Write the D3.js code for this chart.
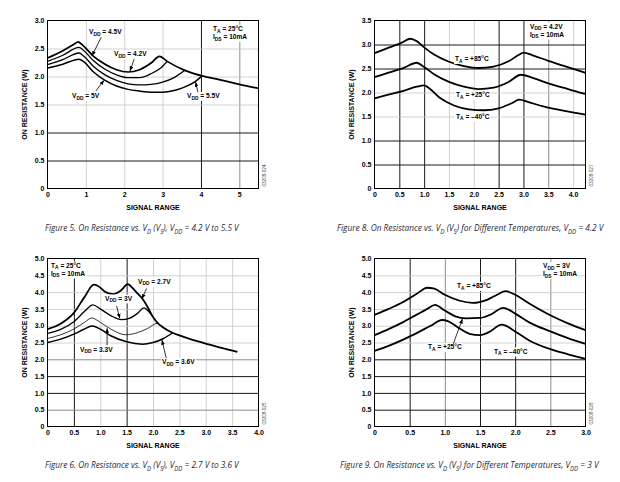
<!DOCTYPE html>
<html><head><meta charset="utf-8">
<script src="https://cdn.jsdelivr.net/npm/d3@7"></script>
<style>body{margin:0;background:#fff}</style>
</head><body>
<svg id="c" width="620" height="482"></svg>
<script>
// ---------------- DATA ----------------
// Figure 5: On resistance vs signal range, VDD = 4.2 V to 5.5 V
const fig5XTicks = [0, 1, 2, 3, 4, 5];
const fig5YTicks = [0, 0.5, 1.0, 1.5, 2.0, 2.5, 3.0];
const fig5Vdd42 = [[0,2.33],[0.4,2.46],[0.7,2.58],[0.8,2.62],[0.9,2.57],[1.2,2.36],[1.5,2.22],[1.8,2.12],[2.1,2.08],[2.4,2.12],[2.7,2.24],[2.92,2.36],[3.12,2.27],[3.58,2.11],[4.03,2.01],[4.5,1.94],[5.0,1.86],[5.5,1.79]];
const fig5Vdd45 = [[0,2.27],[0.4,2.38],[0.82,2.52],[0.95,2.46],[1.2,2.28],[1.5,2.13],[1.8,2.03],[2.1,1.98],[2.4,1.98],[2.7,2.05],[2.95,2.15],[3.12,2.27]];
const fig5Vdd5  = [[0,2.21],[0.4,2.30],[0.82,2.42],[0.95,2.36],[1.2,2.18],[1.5,2.03],[1.8,1.93],[2.1,1.87],[2.4,1.85],[2.7,1.86],[3.0,1.90],[3.3,1.98],[3.58,2.11]];
const fig5Vdd55 = [[0,2.15],[0.4,2.22],[0.82,2.31],[0.95,2.26],[1.2,2.08],[1.5,1.93],[1.8,1.83],[2.1,1.77],[2.4,1.74],[2.7,1.72],[3.0,1.72],[3.3,1.75],[3.6,1.82],[3.85,1.91],[4.03,2.01]];

// Figure 8: On resistance vs signal range for different temperatures, VDD = 4.2 V
const fig8XTicks = [0, 0.5, 1.0, 1.5, 2.0, 2.5, 3.0, 3.5, 4.0];
const fig8YTicks = [0, 0.5, 1.0, 1.5, 2.0, 2.5, 3.0, 3.5];
const fig8Ta85  = [[0,2.82],[0.3,2.94],[0.55,3.04],[0.72,3.12],[0.85,3.07],[1.0,2.94],[1.2,2.79],[1.5,2.64],[1.8,2.55],[2.1,2.51],[2.4,2.54],[2.7,2.65],[2.9,2.78],[3.0,2.83],[3.2,2.77],[3.5,2.66],[3.8,2.56],[4.1,2.46],[4.25,2.41]];
const fig8Ta25  = [[0,2.32],[0.3,2.42],[0.6,2.52],[0.85,2.62],[1.0,2.53],[1.2,2.38],[1.5,2.22],[1.8,2.12],[2.1,2.07],[2.4,2.10],[2.7,2.22],[2.95,2.37],[3.2,2.30],[3.5,2.19],[3.8,2.10],[4.1,2.01],[4.25,1.97]];
const fig8TaM40 = [[0,1.88],[0.3,1.96],[0.6,2.04],[0.85,2.12],[1.0,2.15],[1.1,2.09],[1.3,1.90],[1.6,1.73],[1.9,1.65],[2.2,1.63],[2.5,1.67],[2.75,1.77],[2.92,1.85],[3.1,1.80],[3.4,1.71],[3.8,1.62],[4.25,1.54]];

// Figure 6: On resistance vs signal range, VDD = 2.7 V to 3.6 V
const fig6XTicks = [0, 0.5, 1.0, 1.5, 2.0, 2.5, 3.0, 3.5, 4.0];
const fig6YTicks = [0, 0.5, 1.0, 1.5, 2.0, 2.5, 3.0, 3.5, 4.0, 4.5, 5.0];
const fig6Vdd27 = [[0,2.9],[0.25,3.06],[0.5,3.38],[0.7,3.85],[0.88,4.22],[0.95,4.19],[1.1,4.0],[1.25,3.94],[1.4,4.06],[1.52,4.24],[1.6,4.14],[1.7,3.97],[1.8,3.80],[1.9,3.55],[2.0,3.26],[2.1,3.06],[2.2,2.94],[2.37,2.79],[2.5,2.71],[2.75,2.58],[3.0,2.47],[3.3,2.34],[3.6,2.22]];
const fig6Vdd3  = [[0,2.77],[0.25,2.89],[0.5,3.12],[0.7,3.42],[0.86,3.62],[1.0,3.5],[1.2,3.3],[1.4,3.18],[1.55,3.22],[1.7,3.36],[1.83,3.53],[1.92,3.42],[2.0,3.26]];
const fig6Vdd33 = [[0,2.62],[0.25,2.73],[0.5,2.9],[0.7,3.1],[0.84,3.23],[1.0,3.1],[1.2,2.9],[1.48,2.73],[1.7,2.79],[1.9,2.92],[2.08,3.07],[2.15,2.99],[2.2,2.94]];
const fig6Vdd36 = [[0,2.5],[0.25,2.6],[0.5,2.75],[0.7,2.9],[0.84,2.99],[1.0,2.9],[1.2,2.7],[1.5,2.52],[1.8,2.45],[2.0,2.5],[2.2,2.62],[2.37,2.79]];

// Figure 9: On resistance vs signal range for different temperatures, VDD = 3 V
const fig9XTicks = [0, 0.5, 1.0, 1.5, 2.0, 2.5, 3.0];
const fig9YTicks = [0, 0.5, 1.0, 1.5, 2.0, 2.5, 3.0, 3.5, 4.0, 4.5, 5.0];
const fig9Ta85  = [[0,3.32],[0.2,3.5],[0.4,3.7],[0.6,3.95],[0.75,4.13],[0.85,4.1],[1.0,3.92],[1.2,3.75],[1.4,3.68],[1.6,3.77],[1.75,3.93],[1.86,4.03],[2.0,3.92],[2.2,3.66],[2.5,3.31],[2.75,3.07],[3.0,2.87]];
const fig9Ta25  = [[0,2.72],[0.2,2.9],[0.4,3.1],[0.6,3.33],[0.75,3.5],[0.86,3.62],[1.0,3.45],[1.15,3.28],[1.3,3.22],[1.5,3.23],[1.65,3.33],[1.83,3.53],[2.0,3.36],[2.2,3.1],[2.5,2.83],[2.75,2.63],[3.0,2.46]];
const fig9TaM40 = [[0,2.25],[0.2,2.4],[0.4,2.58],[0.6,2.78],[0.8,3.0],[0.96,3.17],[1.05,3.13],[1.2,2.93],[1.35,2.76],[1.5,2.72],[1.62,2.8],[1.81,3.03],[2.0,2.83],[2.2,2.56],[2.5,2.3],[2.75,2.15],[3.0,2.01]];

// ---------------- DRAWING ----------------
const svg = d3.select("#c");
const FONT = "'Liberation Sans', Arial, Helvetica, sans-serif";
const GRID = {dark:{c:"#1a1a1a",w:1}, mid:{c:"#808080",w:0.9}, light:{c:"#c6c6c6",w:0.8}};

const defs = svg.append("defs");
defs.append("marker").attr("id","ah").attr("viewBox","0 0 8 6").attr("refX",7.5).attr("refY",3)
  .attr("markerWidth",5).attr("markerHeight",4).attr("orient","auto").attr("markerUnits","userSpaceOnUse")
  .append("path").attr("d","M0,0 L8,3 L0,6 Z").attr("fill","#000");

function rich(sel, str, size){
  const parts = str.split(/(_\{[^}]*\})/).filter(s => s.length);
  let sub = false;
  parts.forEach(p => {
    if (p.startsWith("_{")) {
      sel.append("tspan").attr("font-size", size*0.74).attr("dy", size*0.3).text(p.slice(2,-1));
      sub = true;
    } else {
      const t = sel.append("tspan").text(p);
      if (sub) { t.attr("dy", -size*0.3); sub = false; }
    }
  });
}

function fmt1(t){ return t === 0 ? "0" : d3.format(".1f")(t); }

function panel(cfg){
  const g = svg.append("g");
  const x = d3.scaleLinear().domain(cfg.xDomain).range([cfg.left, cfg.right]);
  const y = d3.scaleLinear().domain(cfg.yDomain).range([cfg.bottom, cfg.top]);
  const h = cfg.bottom - cfg.top, w = cfg.right - cfg.left;

  const gx = g.append("g").attr("transform", `translate(0,${cfg.bottom})`)
    .call(d3.axisBottom(x).tickValues(cfg.xTicks.filter(t => t > cfg.xDomain[0] && t < cfg.xDomain[1]))
      .tickSize(-h).tickFormat(""));
  gx.select(".domain").remove();
  gx.selectAll(".tick line").each(function(d){
    const s = GRID[cfg.gridX[d] || "light"];
    d3.select(this).attr("stroke", s.c).attr("stroke-width", s.w);
  });
  const gy = g.append("g").attr("transform", `translate(${cfg.left},0)`)
    .call(d3.axisLeft(y).tickValues(cfg.yTicks.filter(t => t > cfg.yDomain[0] && t < cfg.yDomain[1]))
      .tickSize(-w).tickFormat(""));
  gy.select(".domain").remove();
  gy.selectAll(".tick line").each(function(d){
    const s = GRID[cfg.gridY[d] || "light"];
    d3.select(this).attr("stroke", s.c).attr("stroke-width", s.w);
  });

  const line = d3.line().x(d => x(d[0])).y(d => y(d[1])).curve(d3.curveMonotoneX);
  cfg.series.forEach(s => {
    g.append("path").datum(s.data).attr("d", line).attr("fill","none")
      .attr("stroke","#000").attr("stroke-width", s.w).attr("stroke-linejoin","round");
  });

  cfg.labels.forEach(l => {
    const lg = g.append("g");
    const t = lg.append("text").attr("x", l.x).attr("y", l.y).attr("font-family", FONT)
      .attr("font-weight","bold").attr("font-size", 6.6).attr("fill","#000");
    rich(t, l.text, 6.6);
    const bb = t.node().getBBox();
    lg.insert("rect","text").attr("x", bb.x-1).attr("y", bb.y).attr("width", bb.width+2)
      .attr("height", bb.height).attr("fill","#fff");
  });

  cfg.arrows.forEach(a => {
    g.append("line").attr("x1", x(a[0][0])).attr("y1", y(a[0][1]))
      .attr("x2", x(a[1][0])).attr("y2", y(a[1][1]))
      .attr("stroke","#000").attr("stroke-width",0.8).attr("marker-end","url(#ah)");
  });

  g.append("rect").attr("x", cfg.left).attr("y", cfg.top).attr("width", w).attr("height", h)
    .attr("fill","none").attr("stroke","#000").attr("stroke-width",1);

  const ax = g.append("g").attr("transform", `translate(0,${cfg.bottom})`)
    .call(d3.axisBottom(x).tickValues(cfg.xTicks).tickFormat(cfg.xFmt).tickSize(0).tickPadding(4));
  ax.select(".domain").remove();
  ax.selectAll("text").attr("font-family", FONT).attr("font-weight","bold").attr("font-size",7).attr("fill","#000");
  const ay = g.append("g").attr("transform", `translate(${cfg.left},0)`)
    .call(d3.axisLeft(y).tickValues(cfg.yTicks).tickFormat(fmt1).tickSize(0).tickPadding(3));
  ay.select(".domain").remove();
  ay.selectAll("text").attr("font-family", FONT).attr("font-weight","bold").attr("font-size",7).attr("fill","#000");

  g.append("text").attr("x", (cfg.left+cfg.right)/2).attr("y", cfg.bottom+21.5).attr("text-anchor","middle")
    .attr("font-family", FONT).attr("font-weight","bold").attr("font-size",7).text("SIGNAL RANGE");
  g.append("text").attr("transform", `translate(${cfg.left-20.5},${(cfg.top+cfg.bottom)/2}) rotate(-90)`)
    .attr("text-anchor","middle").attr("font-family", FONT).attr("font-weight","bold").attr("font-size",7)
    .text("ON RESISTANCE (W)");

  g.append("text").attr("transform", `translate(${cfg.right+7},${cfg.bottom-2}) rotate(-90)`)
    .attr("font-family", FONT).attr("font-size",4.6).attr("fill","#444").text(cfg.code);

  const cap = g.append("text").attr("font-family", "'Liberation Sans Narrow','Open Sans',Arial,sans-serif")
    .attr("font-style","italic").attr("font-size",9).attr("fill","#2a2a38");
  rich(cap, cfg.caption, 9);
  const cw = cap.node().getBBox().width;
  cap.attr("transform", `translate(${cfg.capX},${cfg.capY}) scale(${cfg.capW/cw},1)`);
}

panel({
  left:47.5, right:258.5, top:20.5, bottom:188.5,
  xDomain:[0,5.5], yDomain:[0,3], xTicks:fig5XTicks, yTicks:fig5YTicks, xFmt:d3.format("d"),
  gridX:{1:"light",2:"light",3:"light",4:"dark",5:"mid"},
  gridY:{0.5:"dark",1:"dark",1.5:"light",2:"light",2.5:"light"},
  series:[{data:fig5Vdd42,w:1.7},{data:fig5Vdd45,w:1.3},{data:fig5Vdd5,w:1.3},{data:fig5Vdd55,w:1.5}],
  labels:[
    {text:"V_{DD} = 4.5V", x:89, y:34},
    {text:"V_{DD} = 4.2V", x:114, y:56},
    {text:"V_{DD} = 5V", x:72, y:98},
    {text:"V_{DD} = 5.5V", x:187, y:98},
    {text:"T_{A} = 25°C", x:213, y:31},
    {text:"I_{DS} = 10mA", x:213, y:39}
  ],
  arrows:[[[1.40,2.70],[1.16,2.37]],[[2.26,2.31],[2.15,2.10]],[[1.26,1.74],[1.47,1.93]],[[3.92,1.72],[3.86,1.90]]],
  code:"03208-024",
  caption:"Figure 5. On Resistance vs. V_{D} (V_{S}), V_{DD} = 4.2 V to 5.5 V", capX:45, capY:231, capW:195
});

panel({
  left:374.5, right:585.5, top:20.5, bottom:188.5,
  xDomain:[0,4.25], yDomain:[0,3.5], xTicks:fig8XTicks, yTicks:fig8YTicks, xFmt:fmt1,
  gridX:{0.5:"dark",1:"dark",1.5:"light",2:"light",2.5:"dark",3:"dark",3.5:"mid",4:"light"},
  gridY:{0.5:"dark",1:"dark",1.5:"light",2:"light",2.5:"dark",3:"dark"},
  series:[{data:fig8Ta85,w:1.8},{data:fig8Ta25,w:1.8},{data:fig8TaM40,w:1.8}],
  labels:[
    {text:"T_{A} = +85°C", x:455, y:61},
    {text:"T_{A} = +25°C", x:456, y:97},
    {text:"T_{A} = –40°C", x:456, y:118.5},
    {text:"V_{DD} = 4.2V", x:530, y:28.5},
    {text:"I_{DS} = 10mA", x:530, y:36.5}
  ],
  arrows:[],
  code:"03208-027",
  caption:"Figure 8. On Resistance vs. V_{D} (V_{S}) for Different Temperatures, V_{DD} = 4.2 V", capX:337, capY:231, capW:268
});

panel({
  left:47.5, right:258.5, top:258.5, bottom:426.5,
  xDomain:[0,4], yDomain:[0,5], xTicks:fig6XTicks, yTicks:fig6YTicks, xFmt:fmt1,
  gridX:{0.5:"dark",1:"light",1.5:"dark",2:"light",2.5:"light",3:"light",3.5:"light"},
  gridY:{0.5:"mid",1:"dark",1.5:"dark",2:"mid"},
  series:[{data:fig6Vdd27,w:1.8},{data:fig6Vdd3,w:1.3},{data:fig6Vdd33,w:0.8},{data:fig6Vdd36,w:1.5}],
  labels:[
    {text:"T_{A} = 25°C", x:51, y:267.5},
    {text:"I_{DS} = 10mA", x:51, y:275.5},
    {text:"V_{DD} = 2.7V", x:138, y:283.5},
    {text:"V_{DD} = 3V", x:105, y:300.5},
    {text:"V_{DD} = 3.3V", x:80, y:351.5},
    {text:"V_{DD} = 3.6V", x:162, y:364}
  ],
  arrows:[[[1.88,4.11],[1.79,3.80]],[[1.31,3.59],[1.37,3.22]],[[1.13,2.42],[1.13,2.92]],[[2.25,2.04],[2.17,2.57]]],
  code:"03208-025",
  caption:"Figure 6. On Resistance vs. V_{D} (V_{S}), V_{DD} = 2.7 V to 3.6 V", capX:45, capY:468, capW:195
});

panel({
  left:374.5, right:585.5, top:258.5, bottom:426.5,
  xDomain:[0,3], yDomain:[0,5], xTicks:fig9XTicks, yTicks:fig9YTicks, xFmt:fmt1,
  gridX:{0.5:"dark",1:"mid",1.5:"dark",2:"dark",2.5:"mid"},
  gridY:{0.5:"dark",1:"dark",1.5:"dark",2:"dark"},
  series:[{data:fig9Ta85,w:1.8},{data:fig9Ta25,w:1.8},{data:fig9TaM40,w:1.8}],
  labels:[
    {text:"V_{DD} = 3V", x:543, y:268},
    {text:"I_{DS} = 10mA", x:543, y:276},
    {text:"T_{A} = +85°C", x:457, y:288},
    {text:"T_{A} = +25°C", x:428, y:349},
    {text:"T_{A} = –40°C", x:494, y:353.5}
  ],
  arrows:[[[1.12,2.46],[1.25,3.20]]],
  code:"03208-028",
  caption:"Figure 9. On Resistance vs. V_{D} (V_{S}) for Different Temperatures, V_{DD} = 3 V", capX:340, capY:468, capW:260
});
</script>
</body></html>
